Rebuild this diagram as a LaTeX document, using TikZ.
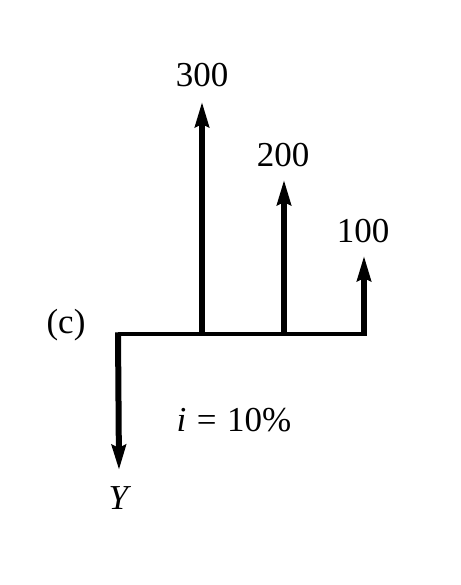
\documentclass[tikz,border=0pt]{standalone}
\usepackage{fontspec}
\setmainfont{Liberation Serif}
\usetikzlibrary{arrows.meta}
\begin{document}
\begin{tikzpicture}[x=0.5pt,y=-0.5pt,
  flow/.style={line width=2.6pt,-{Stealth[length=12.5pt,width=7pt,inset=1.5pt]}},
  axis/.style={line width=1.6pt},
  lbl/.style={font=\fontsize{17.5}{20}\selectfont,inner sep=0pt}]
\useasboundingbox (0,0) rectangle (461,585);
\coordinate (o) at (118,334);
\coordinate (e) at (366,334);
\coordinate (a1) at (202,334);
\coordinate (a2) at (284,334);
\coordinate (a3) at (364,334);
\coordinate (t1) at (202,102);
\coordinate (t2) at (284,180);
\coordinate (t3) at (364,256);
\coordinate (ty) at (119,470);
\draw[axis] (o) -- (e);
\draw[flow] ([yshift=-0.8pt]a1) -- (t1);
\draw[flow] ([yshift=-0.8pt]a2) -- (t2);
\draw[flow] ([yshift=-0.8pt]a3) -- (t3);
\draw[flow,line width=3pt] ([yshift=0.8pt]o) -- (ty);
\node[lbl] (l1) at (202,75) {300};
\node[lbl] (l2) at (283,155) {200};
\node[lbl] (l3) at (363,231) {100};
\node[lbl] (lc) at (66,325) {(c)};
\node[lbl] (li) at (234,420) {\textit{i}\hspace{0.3em}=\hspace{0.3em}10\%};
\node[lbl] (ly) at (120,498) {\textit{Y}};
\end{tikzpicture}
\end{document}
